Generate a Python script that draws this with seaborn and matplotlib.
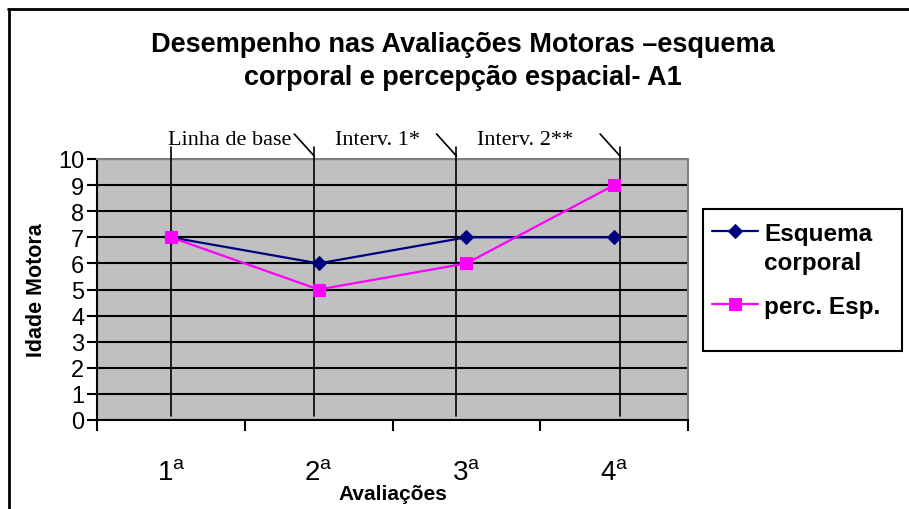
import matplotlib

matplotlib.use("Agg")

import matplotlib.pyplot as plt
import pandas as pd
import seaborn as sns
from matplotlib.lines import Line2D
from matplotlib.patches import Rectangle

# data
avaliacoes = ["1ª", "2ª", "3ª", "4ª"]
esquema_corporal = [7, 6, 7, 7]
perc_espacial = [7, 5, 6, 9]
fases = ["Linha de base", "Interv. 1*", "Interv. 2**"]

sns.set_style("white")
plt.rcParams["font.family"] = ["Liberation Sans", "DejaVu Sans"]
for key in ["text.color", "axes.labelcolor", "xtick.color", "ytick.color"]:
    plt.rcParams[key] = "black"

NAVY = "#000080"
MAGENTA = "#FF00FF"
W, H = 909, 510

df_ec = pd.DataFrame({"avaliacao": avaliacoes, "valor": esquema_corporal})
df_pe = pd.DataFrame({"avaliacao": avaliacoes, "valor": perc_espacial})

fig = plt.figure(figsize=(W / 100, H / 100), dpi=100)
ax = fig.add_axes([97 / W, 1 - 421 / H, 591 / W, 261 / H])
ax.set_facecolor("#C0C0C0")

sns.lineplot(data=df_ec, x="avaliacao", y="valor", color=NAVY, marker="D",
             markersize=7.5, markeredgecolor=NAVY, linewidth=1.6, sort=False,
             ax=ax, label="Esquema", zorder=4)
sns.lineplot(data=df_pe, x="avaliacao", y="valor", color=MAGENTA, marker="s",
             markersize=9, markeredgecolor=MAGENTA, linewidth=1.6, sort=False,
             ax=ax, label="perc. Esp.", zorder=5)

ax.set_xlim(-0.5, len(avaliacoes) - 0.5)
ax.set_ylim(0, 10)

# horizontal grid at each unit
ax.set_yticks(range(0, 11))
ax.yaxis.grid(True, color="black", linewidth=1.5)
ax.set_axisbelow(True)
ax.tick_params(axis="y", direction="out", length=7, width=1.5, pad=2,
               labelsize=17, left=True)

# category boundaries as major ticks, labels on minor ticks
ax.set_xticks([i - 0.5 for i in range(len(avaliacoes) + 1)])
ax.set_xticklabels([])
ax.set_xticks(range(len(avaliacoes)), minor=True)
ax.set_xticklabels([a[0] + r"$^{\mathregular{a}}$" for a in avaliacoes],
                   minor=True)
ax.tick_params(axis="x", which="major", direction="out", length=8, width=1.5,
               bottom=True)
ax.tick_params(axis="x", which="minor", length=0, pad=29, labelsize=20)

for side in ["left", "bottom"]:
    ax.spines[side].set_color("black")
    ax.spines[side].set_linewidth(1.5)
for side in ["top", "right"]:
    ax.spines[side].set_color("#808080")
    ax.spines[side].set_linewidth(1.5)

ax.set_xlabel("Avaliações", fontsize=15, fontweight="bold", va="top")
ax.xaxis.set_label_coords(0.5, -0.245)
ax.set_ylabel("Idade Motora", fontsize=15.5, fontweight="bold")
ax.yaxis.set_label_coords(-0.085, 0.5)

# phase separators drawn over the chart
shift = [0.0, -0.03, -0.067, 0.04]
for i, s in enumerate(shift):
    x = i + s
    ax.plot([x, x], [0.15, 10.46], color="black", linewidth=1.2,
            clip_on=False, zorder=3)
    if i > 0:
        ax.plot([x - 0.135, x], [10.96, 10.115], color="black", linewidth=1.2,
                clip_on=False, zorder=3)
for i, fase in enumerate(fases):
    ax.text(i + 0.4, 10.575, fase, ha="center", va="baseline", fontsize=16,
            family=["Liberation Serif", "DejaVu Serif"])

# legend
leg = ax.legend(loc="upper left", bbox_to_anchor=(712 / W, 1 - 223 / H),
                bbox_transform=fig.transFigure, frameon=False,
                prop={"weight": "bold", "size": 17.5}, handlelength=1.9,
                handletextpad=0.25, borderpad=0, borderaxespad=0,
                labelspacing=2.05)
fig.text(764 / W, 1 - 270 / H, "corporal", ha="left", va="baseline",
         fontsize=17.5, fontweight="bold")
fig.add_artist(Rectangle((703 / W, 1 - 352 / H), 199 / W, 142 / H,
                         transform=fig.transFigure, fill=False,
                         edgecolor="black", linewidth=1.5))

fig.text(463 / W, 1 - 52 / H, "Desempenho nas Avaliações Motoras –esquema",
         ha="center", va="baseline", fontsize=19.5, fontweight="bold")
fig.text(463 / W, 1 - 85 / H, "corporal e percepção espacial- A1",
         ha="center", va="baseline", fontsize=19.5, fontweight="bold")

# outer chart border (top and left visible)
fig.add_artist(Line2D([8 / W, 1], [1 - 10 / H, 1 - 10 / H],
                      transform=fig.transFigure, color="black", linewidth=2))
fig.add_artist(Line2D([9 / W, 9 / W], [0, 1 - 10 / H],
                      transform=fig.transFigure, color="black", linewidth=2))

fig.savefig("out.png", dpi=100)
